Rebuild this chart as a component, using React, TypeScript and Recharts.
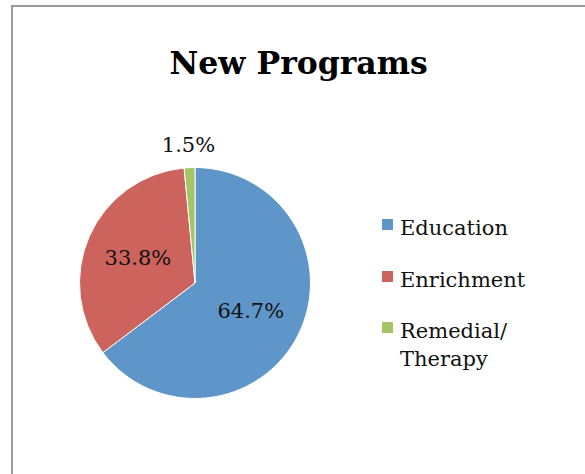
import React from 'react';
import { PieChart, Pie, Cell, Legend } from 'recharts';

const categories = ['Education', 'Enrichment', 'Remedial/ Therapy'];
const shares = [64.7, 33.8, 1.5];
const colors = ['#5f96ca', '#cc635d', '#a4c565'];
const chartTitle = 'New Programs';

const data = categories.map((name, i) => ({ name, value: shares[i] }));

const FONT = '"DejaVu Serif", serif';
const RADIAN = Math.PI / 180;

const renderLabel = (props: any) => {
  const { cx, cy, midAngle, outerRadius, value } = props;
  const inside = value > 5;
  const r = inside ? outerRadius * 0.54 : outerRadius + 23;
  const x = cx + r * Math.cos(-midAngle * RADIAN);
  const y = cy + r * Math.sin(-midAngle * RADIAN);
  return (
    <text
      x={x}
      y={y}
      fill="#111"
      textAnchor="middle"
      dominantBaseline="central"
      style={{ fontFamily: FONT, fontSize: 21 }}
    >
      {`${Number(value).toFixed(1)}%`}
    </text>
  );
};

const renderLegend = (props: any) => {
  const payload = props.payload || [];
  return (
    <div style={{ display: 'flex', flexDirection: 'column', gap: 23.5 }}>
      {payload.map((entry: any, i: number) => (
        <div key={i} style={{ display: 'flex', alignItems: 'flex-start' }}>
          <div
            style={{
              width: 11,
              height: 11,
              marginTop: 5,
              background: entry.color,
              flex: '0 0 auto',
            }}
          />
          <div
            style={{
              marginLeft: 7,
              width: 135,
              fontFamily: FONT,
              fontSize: 21,
              lineHeight: '28px',
              color: '#111',
            }}
          >
            {entry.value}
          </div>
        </div>
      ))}
    </div>
  );
};

export default function App() {
  return (
    <div style={{ position: 'absolute', left: 0, top: 0, width: 585, height: 474, background: '#fff' }}>
      <div
        style={{
          position: 'absolute',
          left: 11,
          top: 5,
          width: 572,
          height: 474,
          borderLeft: '2px solid #9a9a9a',
          borderTop: '2px solid #9a9a9a',
          borderRight: '1px solid #e2e2e2',
        }}
      />
      <div
        style={{
          position: 'absolute',
          left: 0,
          top: 43.5,
          width: 597.4,
          textAlign: 'center',
          fontFamily: FONT,
          fontWeight: 'bold',
          fontSize: 31.5,
          lineHeight: 'normal',
          color: '#000',
        }}
      >
        {chartTitle}
      </div>
      <PieChart
        width={585}
        height={474}
        margin={{ top: 0, right: 0, bottom: 0, left: 0 }}
        style={{ position: 'absolute', left: 0, top: 0 }}
      >
        <Pie
          data={data}
          dataKey="value"
          nameKey="name"
          cx={195}
          cy={283}
          outerRadius={115.5}
          startAngle={90}
          endAngle={-270}
          stroke="#ffffff"
          strokeWidth={1}
          label={renderLabel}
          labelLine={false}
          isAnimationActive={false}
        >
          {data.map((d, i) => (
            <Cell key={d.name} fill={colors[i]} />
          ))}
        </Pie>
        <Legend
          layout="vertical"
          content={renderLegend}
          wrapperStyle={{ position: 'absolute', left: 382, top: 214, width: 190, right: 'auto', bottom: 'auto' }}
        />
      </PieChart>
    </div>
  );
}
